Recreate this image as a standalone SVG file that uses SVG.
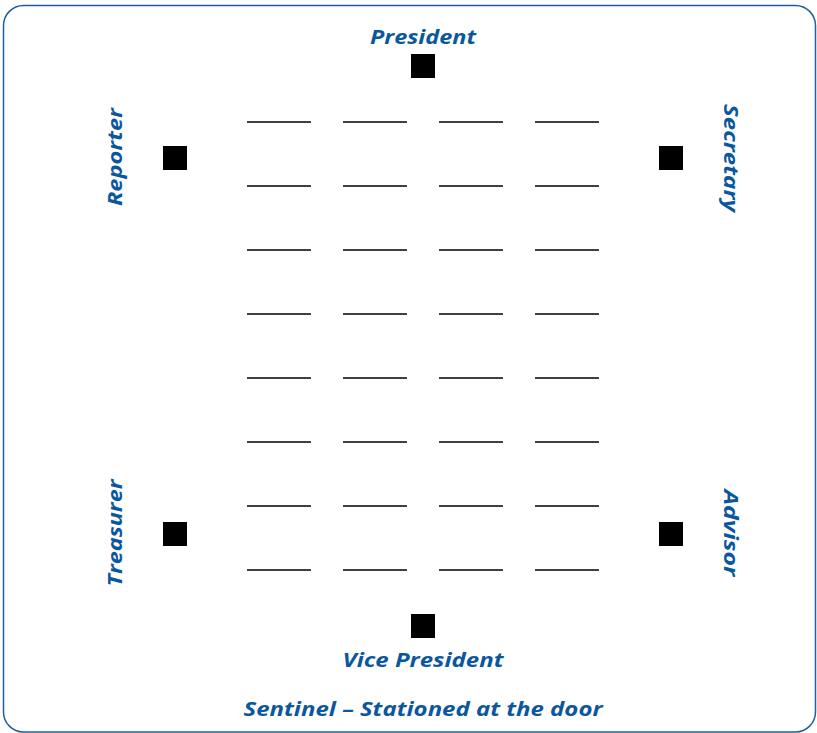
<svg xmlns="http://www.w3.org/2000/svg" width="817" height="733" viewBox="0 0 817 733">
<style>
.lbl{font-family:"Open Sans","Liberation Sans",sans-serif;font-weight:bold;font-style:italic;font-size:20px;fill:#0b579e}
.seat{stroke:#000;stroke-width:1.5}
.sq{fill:#000}
</style>
<rect x="3.5" y="5.5" width="812" height="726.5" rx="20" ry="20" fill="#fff" stroke="#1f5f9f" stroke-width="1.5"/>
<g id="president"><rect class="sq" x="411" y="54" width="24" height="24"/><text class="lbl" x="423" y="44" text-anchor="middle" textLength="106" lengthAdjust="spacingAndGlyphs">President</text></g>
<g id="reporter"><rect class="sq" x="163" y="146" width="24" height="24"/><text class="lbl" transform="translate(122,157) rotate(-90)" text-anchor="middle" textLength="98" lengthAdjust="spacingAndGlyphs">Reporter</text></g>
<g id="secretary"><rect class="sq" x="659" y="146" width="24" height="24"/><text class="lbl" transform="translate(724,158) rotate(90)" text-anchor="middle" textLength="108" lengthAdjust="spacingAndGlyphs">Secretary</text></g>
<g id="treasurer"><rect class="sq" x="163" y="522" width="24" height="24"/><text class="lbl" transform="translate(122,533) rotate(-90)" text-anchor="middle" textLength="107" lengthAdjust="spacingAndGlyphs">Treasurer</text></g>
<g id="advisor"><rect class="sq" x="659" y="522" width="24" height="24"/><text class="lbl" transform="translate(724,533) rotate(90)" text-anchor="middle" textLength="87" lengthAdjust="spacingAndGlyphs">Advisor</text></g>
<g id="vice-president"><rect class="sq" x="411" y="614" width="24" height="24"/><text class="lbl" x="423" y="667" text-anchor="middle" textLength="161" lengthAdjust="spacingAndGlyphs">Vice President</text></g>
<g id="sentinel"><text class="lbl" x="423" y="716" text-anchor="middle" textLength="359" lengthAdjust="spacingAndGlyphs">Sentinel – Stationed at the door</text></g>
<g id="seats">
<g id="row1"><line class="seat" x1="247" y1="122" x2="311" y2="122"/><line class="seat" x1="343" y1="122" x2="407" y2="122"/><line class="seat" x1="439" y1="122" x2="503" y2="122"/><line class="seat" x1="535" y1="122" x2="599" y2="122"/></g>
<g id="row2"><line class="seat" x1="247" y1="186" x2="311" y2="186"/><line class="seat" x1="343" y1="186" x2="407" y2="186"/><line class="seat" x1="439" y1="186" x2="503" y2="186"/><line class="seat" x1="535" y1="186" x2="599" y2="186"/></g>
<g id="row3"><line class="seat" x1="247" y1="250" x2="311" y2="250"/><line class="seat" x1="343" y1="250" x2="407" y2="250"/><line class="seat" x1="439" y1="250" x2="503" y2="250"/><line class="seat" x1="535" y1="250" x2="599" y2="250"/></g>
<g id="row4"><line class="seat" x1="247" y1="314" x2="311" y2="314"/><line class="seat" x1="343" y1="314" x2="407" y2="314"/><line class="seat" x1="439" y1="314" x2="503" y2="314"/><line class="seat" x1="535" y1="314" x2="599" y2="314"/></g>
<g id="row5"><line class="seat" x1="247" y1="378" x2="311" y2="378"/><line class="seat" x1="343" y1="378" x2="407" y2="378"/><line class="seat" x1="439" y1="378" x2="503" y2="378"/><line class="seat" x1="535" y1="378" x2="599" y2="378"/></g>
<g id="row6"><line class="seat" x1="247" y1="442" x2="311" y2="442"/><line class="seat" x1="343" y1="442" x2="407" y2="442"/><line class="seat" x1="439" y1="442" x2="503" y2="442"/><line class="seat" x1="535" y1="442" x2="599" y2="442"/></g>
<g id="row7"><line class="seat" x1="247" y1="506" x2="311" y2="506"/><line class="seat" x1="343" y1="506" x2="407" y2="506"/><line class="seat" x1="439" y1="506" x2="503" y2="506"/><line class="seat" x1="535" y1="506" x2="599" y2="506"/></g>
<g id="row8"><line class="seat" x1="247" y1="570" x2="311" y2="570"/><line class="seat" x1="343" y1="570" x2="407" y2="570"/><line class="seat" x1="439" y1="570" x2="503" y2="570"/><line class="seat" x1="535" y1="570" x2="599" y2="570"/></g>
</g>
</svg>
